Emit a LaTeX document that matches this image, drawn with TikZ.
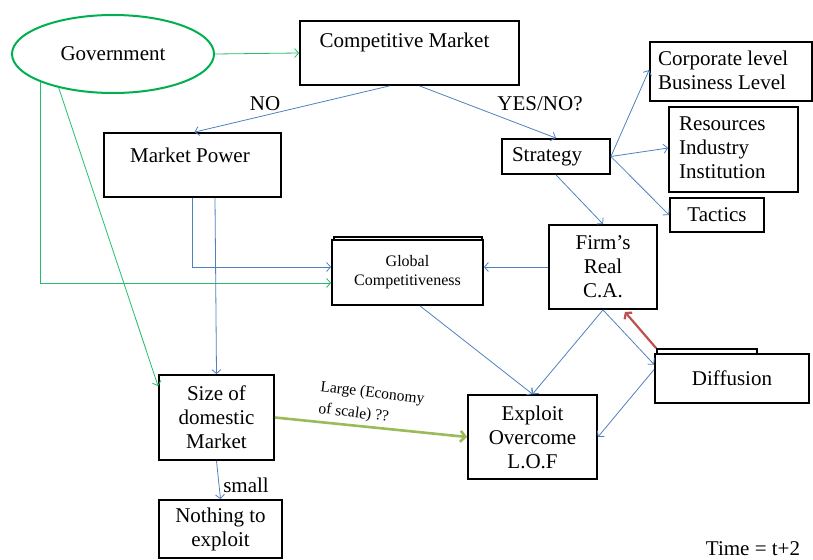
\documentclass[tikz,border=0pt]{standalone}
\usepackage{fontspec}
\setmainfont{Liberation Serif}
\usetikzlibrary{arrows.meta,shapes.geometric,calc}
\definecolor{lblue}{HTML}{4F81BD}
\definecolor{ggreen}{HTML}{00B050}
\definecolor{lgreen}{HTML}{9BBB59}
\definecolor{lred}{HTML}{C0504D}
\begin{document}
\begin{tikzpicture}[x=1pt,y=-1pt,
  main/.style={font=\fontsize{21}{24}\selectfont},
  box/.style={draw=black, line width=1.8pt, fill=white, main, align=center, inner sep=2pt},
  txt/.style={main, inner sep=0pt, align=left},
  small/.style={inner sep=0pt, font=\fontsize{15.5}{19}\selectfont, rotate=-7, anchor=base west},
  bl/.style={draw=lblue, line width=0.8pt, -{Straight Barb[length=4pt,width=9pt]}},
  gl/.style={draw=ggreen!85!white, line width=0.8pt, -{Straight Barb[length=4pt,width=9pt]}},
  thickgreen/.style={draw=lgreen, line width=2.6pt, -{Straight Barb[length=5pt,width=11pt]}},
  redarrow/.style={draw=lred, line width=2.2pt, -{Straight Barb[length=4pt,width=10pt]}}
]
\useasboundingbox (0,0) rectangle (813,559);

% nodes
\node[ellipse, draw=ggreen, line width=2pt, minimum width=202pt, minimum height=78pt, main] (gov) at (113,54) {Government};

\node[box, minimum width=219pt, minimum height=64pt] (cm) at (409.5,53) {};
\node[txt] (cmt) at (404.5,42) {Competitive Market};

\node[box, minimum width=177pt, minimum height=64pt] (mp) at (192.5,165) {};
\node[txt] (mpt) at (190,155) {Market Power};

\node[box, minimum width=108pt, minimum height=35pt] (st) at (556,156.5) {};
\node[txt] (stt) at (547,157) {Strategy};

\node[box, minimum width=162pt, minimum height=59pt] (corp) at (731,71.5) {};
\node[txt, anchor=west] (corpt) at (658,70) {Corporate level\\Business Level};

\node[box, minimum width=129pt, minimum height=85pt] (res) at (733.5,149.5) {};
\node[txt, anchor=west] (rest) at (679,148) {Resources\\Industry\\Institution};

\node[box, minimum width=94pt, minimum height=34pt] (tac) at (717,215) {Tactics};

\node[box, minimum width=108pt, minimum height=84pt] (firm) at (603,267) {Firm’s\\Real\\C.A.};

\draw[line width=1.8pt, fill=white] (334,237) rectangle (482,300);
\node[box, minimum width=151pt, minimum height=65pt, font=\fontsize{16}{19}\selectfont] (glob) at (407.5,272.5) {Global\\Competitiveness};

\draw[line width=1.8pt, fill=white] (657,349) rectangle (757,362);
\node[box, minimum width=154pt, minimum height=49pt] (diff) at (732,378.5) {Diffusion};

\node[box, minimum width=115pt, minimum height=85pt] (size) at (216.5,417.5) {Size of\\domestic\\Market};

\node[box, minimum width=123pt, minimum height=58pt] (noth) at (220.5,529) {Nothing to\\exploit};

\node[box, minimum width=129pt, minimum height=84pt] (expl) at (532.5,437) {Exploit\\Overcome\\L.O.F};

% labels
\node[txt] (lno) at (265,104) {NO};
\node[txt] (lyes) at (540,104) {YES/NO?};
\node[txt] (lsmall) at (246,485) {small};
\node[small] (llarge1) at (320,391) {Large (Economy};
\node[small] (llarge2) at (318,413) {of scale) ??};
\node[txt] (time) at (753,549) {Time = t+2};

% connectors
\draw[gl] (gov.east) -- (cm.west);
\draw[gl] (gov.south west) |- ([yshift=-10.5pt]glob.west);
\draw[gl] (gov.212) -- ([yshift=-12pt]size.north west);

\draw[bl] ([xshift=-20pt]cm.south) -- ([xshift=2pt]mp.north);
\draw[bl] ([xshift=10pt]cm.south) -- (st.north);
\draw[bl] (st.east) -- ([yshift=1.5pt]corp.west);
\draw[bl] (st.east) -- ([yshift=1.5pt]res.west);
\draw[bl] (st.east) -- (tac.west);
\draw[bl] (st.south) -- (firm.north);
\draw[bl] (firm.west) -- (firm.west -| glob.east);
\draw[bl] (mp.south) |- ([yshift=5.5pt]glob.west);
\draw[bl] ([xshift=22.5pt]mp.south) -- (size.north);
\draw[bl] ([xshift=12.5pt]glob.south) -- (expl.north);
\draw[bl] (firm.south) -- (expl.north);
\draw[bl] (firm.south) -- ([yshift=14pt]diff.west);
\draw[bl] ([yshift=9pt]diff.west) -- (expl.east);
\draw[bl] (size.south) -- (noth.north);

\draw[redarrow] ([xshift=2pt,yshift=5pt]diff.north west) -- ([xshift=-33pt,yshift=-2pt]firm.south east);
\draw[thickgreen] (size.east) -- (expl.west);
\end{tikzpicture}
\end{document}
